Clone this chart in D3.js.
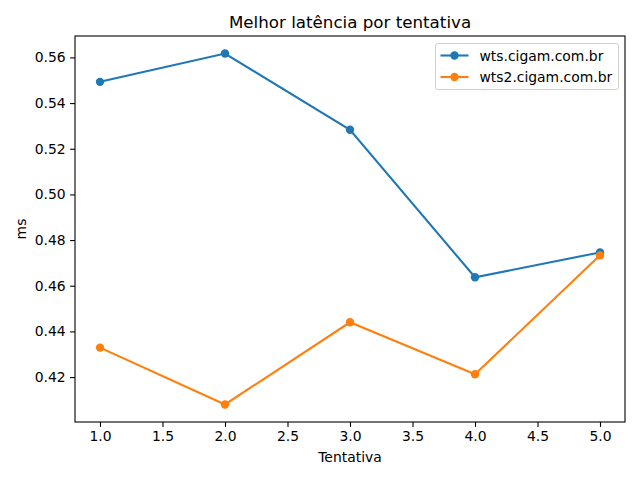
<!DOCTYPE html>
<html>
<head>
<meta charset="utf-8">
<script src="https://cdn.jsdelivr.net/npm/d3@7"></script>
<style>
  body { margin: 0; background: #fff; }
  text { font-family: "DejaVu Sans", sans-serif; fill: #000; }
</style>
</head>
<body>
<div id="chart"></div>
<script>
// values
const tentativas = [1, 2, 3, 4, 5];
const wtsValues = [0.5493, 0.5617, 0.5283, 0.4637, 0.4746];
const wts2Values = [0.4329, 0.4080, 0.4440, 0.4212, 0.4733];
const seriesNames = ['wts.cigam.com.br', 'wts2.cigam.com.br'];
const seriesColors = ['#1f77b4', '#ff7f0e'];
const xTicks = [1.0, 1.5, 2.0, 2.5, 3.0, 3.5, 4.0, 4.5, 5.0];
const yTicks = [0.42, 0.44, 0.46, 0.48, 0.50, 0.52, 0.54, 0.56];

const width = 640, height = 480;
const margin = { top: 36, right: 15, bottom: 58, left: 75 };
const w = width - margin.left - margin.right;
const h = height - margin.top - margin.bottom;

const svg = d3.select('#chart').append('svg')
    .attr('width', width)
    .attr('height', height);

const g = svg.append('g')
    .attr('transform', `translate(${margin.left},${margin.top})`);

// matplotlib style 5% margins
const allY = wtsValues.concat(wts2Values);
const yMin = d3.min(allY), yMax = d3.max(allY);
const yPad = (yMax - yMin) * 0.05;
const xPad = (d3.max(tentativas) - d3.min(tentativas)) * 0.05;

const xScale = d3.scaleLinear()
    .domain([d3.min(tentativas) - xPad, d3.max(tentativas) + xPad])
    .range([0, w]);

const yScale = d3.scaleLinear()
    .domain([yMin - yPad, yMax + yPad])
    .range([h, 0]);

const xAxis = g.append('g')
    .attr('transform', `translate(0,${h})`)
    .call(d3.axisBottom(xScale).tickValues(xTicks).tickFormat(d3.format('.1f')).tickSizeOuter(0).tickSize(4.9).tickPadding(4.5));

const yAxis = g.append('g')
    .call(d3.axisLeft(yScale).tickValues(yTicks).tickFormat(d3.format('.2f')).tickSizeOuter(0).tickSize(4.9).tickPadding(4.5));

[xAxis, yAxis].forEach(a => {
    a.select('.domain').remove();
    a.selectAll('line').attr('stroke', '#000').attr('stroke-width', 1.1);
    a.selectAll('text').style('font-size', '13.9px').style('font-family', '"DejaVu Sans", sans-serif');
});

const series = [wtsValues, wts2Values];
const line = d3.line()
    .x((d, i) => xScale(tentativas[i]))
    .y(d => yScale(d));

series.forEach((vals, si) => {
    g.append('path')
        .datum(vals)
        .attr('fill', 'none')
        .attr('stroke', seriesColors[si])
        .attr('stroke-width', 2.08)
        .attr('d', line);
    g.selectAll('.pt' + si)
        .data(vals)
        .enter().append('circle')
        .attr('class', 'pt' + si)
        .attr('cx', (d, i) => xScale(tentativas[i]))
        .attr('cy', d => yScale(d))
        .attr('r', 4.2)
        .attr('fill', seriesColors[si]);
});

// axes frame
g.append('rect')
    .attr('width', w)
    .attr('height', h)
    .attr('fill', 'none')
    .attr('stroke', '#000')
    .attr('stroke-width', 1.1);

svg.append('text')
    .attr('x', margin.left + w / 2)
    .attr('y', 28)
    .attr('text-anchor', 'middle')
    .style('font-size', '16.7px')
    .text('Melhor latência por tentativa');

svg.append('text')
    .attr('x', margin.left + w / 2)
    .attr('y', 462)
    .attr('text-anchor', 'middle')
    .style('font-size', '13.9px')
    .text('Tentativa');

svg.append('text')
    .attr('transform', `translate(26,${margin.top + h / 2}) rotate(-90)`)
    .attr('text-anchor', 'middle')
    .style('font-size', '13.9px')
    .text('ms');

// legend
const legend = svg.append('g')
    .attr('transform', 'translate(435.5,43.5)');

legend.append('rect')
    .attr('width', 183)
    .attr('height', 46)
    .attr('rx', 2.5)
    .attr('fill', '#fff')
    .attr('fill-opacity', 0.8)
    .attr('stroke', '#d0d0d0')
    .attr('stroke-width', 1);

seriesNames.forEach((name, i) => {
    const row = legend.append('g')
        .attr('transform', `translate(0,${12 + i * 21.5})`);
    row.append('line')
        .attr('x1', 5).attr('x2', 33)
        .attr('stroke', seriesColors[i])
        .attr('stroke-width', 2.08);
    row.append('circle')
        .attr('cx', 19)
        .attr('r', 4.2)
        .attr('fill', seriesColors[i]);
    row.append('text')
        .attr('x', 44)
        .attr('y', 5)
        .style('font-size', '13.9px')
        .text(name);
});
</script>
</body>
</html>
